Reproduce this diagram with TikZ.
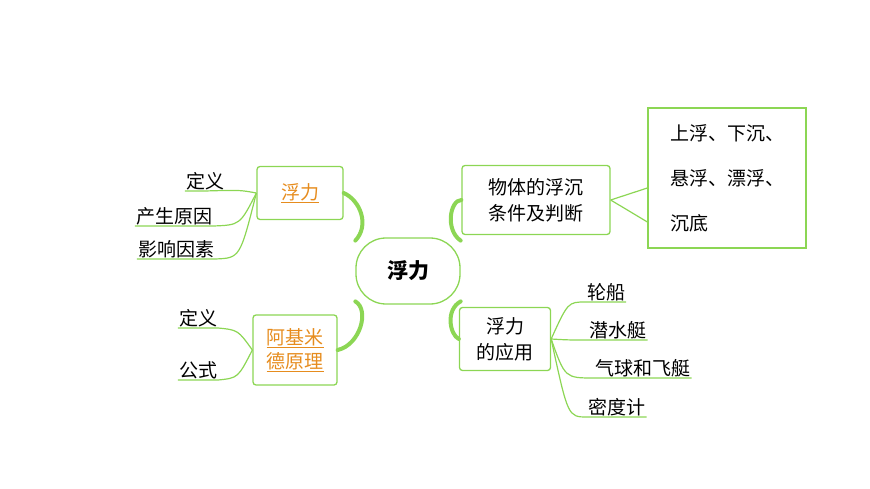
\documentclass[tikz,border=0pt]{standalone}
\usepackage{fontspec}
\setmainfont{Noto Sans CJK SC}
\usetikzlibrary{positioning}
\definecolor{lgreen}{RGB}{140,214,84}
\definecolor{borange}{RGB}{230,140,30}
\begin{document}
\begin{tikzpicture}[x=1pt,y=-1pt,
		box/.style={rectangle, rounded corners=3pt, draw=lgreen, line width=1.3pt,
			inner sep=3pt, align=center, font=\fontsize{19}{26}\selectfont},
		leaf/.style={font=\fontsize{19}{22}\selectfont, inner sep=1pt, anchor=south},
		twig/.style={draw=lgreen, line width=1.2pt},
		trunk/.style={draw=lgreen, line width=4pt, line cap=round},
		orl/.style={text=borange}]
	\useasboundingbox (0,0) rectangle (870,489);
	% central topic
	\node[box, rounded corners=30pt, minimum width=104pt, minimum height=66pt,
		font=\fontsize{21}{24}\selectfont\bfseries] (root) at (408,271) {浮力};
	% main branches
	\node[box, minimum width=86pt, minimum height=53pt] (fl) at (300,193)
		{\textcolor{borange}{\underline{浮力}}};
	\node[box, minimum width=84pt, minimum height=70pt, inner sep=1pt] (akm) at (295,350)
		{\textcolor{borange}{\underline{阿基米}}\\[-2pt]\textcolor{borange}{\underline{德原理}}};
	\node[box, minimum width=148pt, minimum height=69pt, inner sep=1pt] (fc) at (536,200)
		{物体的浮沉\\条件及判断};
	\node[box, minimum width=91pt, minimum height=63pt, inner sep=1pt] (yy) at (505,339)
		{浮力\\的应用};
	\node[box, rounded corners=0pt, minimum width=158pt, minimum height=140pt,
		align=left, font=\fontsize{19}{45}\selectfont] (tj) at (727,178)
		{上浮、下沉、\\悬浮、漂浮、\\沉底};
	% trunks
	\draw[trunk] (root.150) .. controls (370,225) and (360,200) .. (fl.east);
	\draw[trunk] (root.210) .. controls (370,310) and (360,345) .. (akm.east);
	\draw[trunk] (root.30) .. controls (445,230) and (450,200) .. (fc.west);
	\draw[trunk] (root.330) .. controls (445,310) and (450,335) .. (yy.west);
	\draw[twig] (fc.east) -- (tj.west |- 0,188);
	\draw[twig] (fc.east) -- (tj.west |- 0,222);
	% leaves of fl
	\coordinate (flj) at (fl.west);
	\node[leaf] (l1) at (205,191) {定义};
	\node[leaf] (l2) at (174,226) {产生原因};
	\node[leaf] (l3) at (176,259) {影响因素};
	\draw[twig] (flj) .. controls (240,190) .. (l1.south) -- (l1.south west);
	\draw[twig] (flj) .. controls (240,225) .. (l2.south east) -- (l2.south west);
	\draw[twig] (flj) .. controls (240,258) .. (l3.south east) -- (l3.south west);
	% leaves of akm
	\coordinate (akj) at (akm.west);
	\node[leaf] (a1) at (198,328) {定义};
	\node[leaf] (a2) at (198,380) {公式};
	\draw[twig] (akj) .. controls (238,330) .. (a1.south east) -- (a1.south west);
	\draw[twig] (akj) .. controls (238,378) .. (a2.south east) -- (a2.south west);
	% leaves of yy
	\coordinate (yyj) at (yy.east);
	\node[leaf] (y1) at (606,302) {轮船};
	\node[leaf] (y2) at (618,340) {潜水艇};
	\node[leaf] (y3) at (643,378) {气球和飞艇};
	\node[leaf] (y4) at (617,417) {密度计};
	\draw[twig] (yyj) .. controls (568,302) .. (y1.south west) -- (y1.south east);
	\draw[twig] (yyj) .. controls (568,340) .. (y2.south west) -- (y2.south east);
	\draw[twig] (yyj) .. controls (565,378) .. (y3.south west) -- (y3.south east);
	\draw[twig] (yyj) .. controls (568,417) .. (y4.south west) -- (y4.south east);
\end{tikzpicture}
\end{document}
